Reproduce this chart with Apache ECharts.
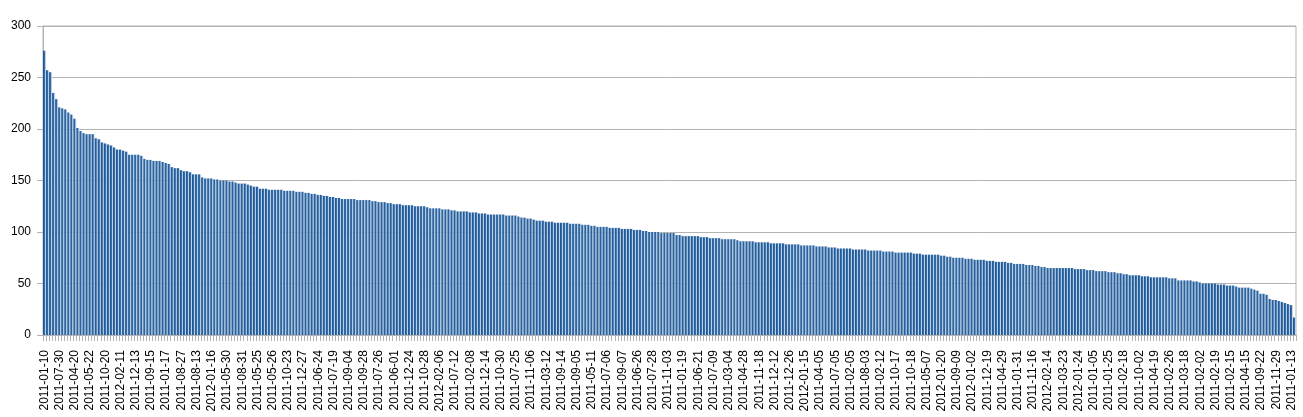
<!DOCTYPE html>
<html>
<head>
<meta charset="utf-8">
<script src="https://cdn.jsdelivr.net/npm/echarts@6/dist/echarts.min.js"></script>
<style>
html,body{margin:0;padding:0;background:#fff;}
#chart{width:1303px;height:417px;}
</style>
</head>
<body>
<div id="chart"></div>
<script>
// Tick labels shown on the x axis (every 5th bar)
var tickLabels = [
"2011-01-10","2011-07-30","2011-04-20","2011-05-22","2011-10-20","2012-02-11","2011-12-13","2011-09-15","2011-01-17","2011-08-27",
"2011-08-13","2012-01-16","2011-05-30","2011-08-31","2011-05-25","2011-05-26","2011-10-23","2011-12-27","2011-06-24","2011-07-19",
"2011-09-04","2011-09-28","2011-07-26","2011-06-01","2011-12-24","2011-10-28","2012-02-06","2011-07-12","2011-02-08","2011-12-14",
"2011-10-30","2011-07-25","2011-11-06","2011-03-12","2011-09-14","2011-09-05","2011-05-11","2011-07-06","2011-09-07","2011-06-26",
"2011-07-28","2011-11-03","2011-01-19","2011-06-21","2011-07-09","2011-03-04","2011-04-28","2011-11-18","2011-12-12","2011-12-26",
"2012-01-15","2011-04-05","2011-07-05","2011-02-05","2011-08-03","2011-02-12","2011-10-17","2011-10-18","2011-05-07","2012-01-20",
"2011-09-09","2012-01-02","2011-12-19","2011-04-29","2011-01-31","2011-11-16","2012-02-14","2011-03-23","2012-01-24","2011-01-05",
"2011-01-25","2011-02-18","2011-10-02","2011-04-19","2011-02-26","2011-03-18","2011-02-02","2011-02-19","2011-02-15","2011-04-15",
"2011-09-22","2011-11-29","2011-01-13"
];
var labelStep = 5;

// Bar values (sorted descending as in the reference)
var values = [
276,257,255,235,229,221,220,219,216,214,
210,201,198,196,195,195,195,191,190,187,
186,185,184,182,180,180,179,178,175,175,
175,175,174,171,170,170,169,169,169,168,
167,166,163,162,162,160,159,159,158,156,
156,156,153,152,152,152,151,151,150,150,
150,149,149,148,147,147,147,146,145,144,
144,142,142,142,141,141,141,141,141,140,
140,140,140,139,139,139,138,138,137,137,
136,136,135,135,134,134,133,133,132,132,
132,132,132,131,131,131,131,131,130,130,
129,129,129,128,128,127,127,127,126,126,
126,126,125,125,125,125,124,123,123,123,
123,122,122,122,121,121,120,120,120,120,
119,119,119,118,118,118,117,117,117,117,
117,117,116,116,116,116,115,114,114,113,
113,112,111,111,111,110,110,110,109,109,
109,109,109,108,108,108,108,107,107,107,
106,106,105,105,105,105,104,104,104,104,
103,103,103,103,102,102,102,101,101,100,
100,100,100,99,99,99,99,99,97,97,
96,96,96,96,96,96,95,95,95,94,
94,94,94,93,93,93,93,93,92,91,
91,91,91,91,90,90,90,90,90,89,
89,89,89,89,88,88,88,88,88,87,
87,87,87,87,86,86,86,86,85,85,
85,84,84,84,84,84,83,83,83,83,
83,82,82,82,82,82,81,81,81,81,
80,80,80,80,80,80,79,79,79,78,
78,78,78,78,78,77,77,76,76,75,
75,75,75,74,74,74,73,73,73,73,
72,72,72,71,71,71,71,70,70,69,
69,69,69,68,68,68,67,67,66,66,
65,65,65,65,65,65,65,65,65,64,
64,64,64,63,63,63,62,62,62,62,
61,61,61,60,60,59,59,58,58,58,
58,57,57,57,56,56,56,56,56,56,
55,55,55,53,53,53,53,53,52,52,
51,50,50,50,50,50,49,49,49,48,
48,48,47,46,46,46,46,45,44,43,
40,40,39,35,34,34,33,32,31,30,
29,17
];

var yTicks = [0, 50, 100, 150, 200, 250, 300];

var categories = values.map(function (v, i) {
  return (i % labelStep === 0 && tickLabels[i / labelStep]) ? tickLabels[i / labelStep] : '';
});

var chart = echarts.init(document.getElementById('chart'), null, {renderer: 'canvas'});
var font = "'Liberation Sans', Arial, sans-serif";
chart.setOption({
  animation: false,
  backgroundColor: '#ffffff',
  grid: {left: 43, right: 7, top: 26, bottom: 82, show: true, borderColor: '#b3b3b3', borderWidth: 1, backgroundColor: 'transparent'},
  xAxis: {
    type: 'category',
    data: categories,
    boundaryGap: true,
    axisLine: {show: true, lineStyle: {color: '#b3b3b3', width: 1}},
    axisTick: {show: true, interval: 0, length: 6, alignWithLabel: false, lineStyle: {color: '#b3b3b3'}},
    axisLabel: {interval: labelStep - 1, rotate: 90, margin: 15, fontFamily: font, fontSize: 12, color: '#000'},
    splitLine: {show: false}
  },
  yAxis: {
    type: 'value',
    min: yTicks[0],
    max: yTicks[yTicks.length - 1],
    interval: yTicks[1] - yTicks[0],
    axisLine: {show: true, lineStyle: {color: '#b3b3b3', width: 1}},
    axisTick: {show: true, length: 6, lineStyle: {color: '#b3b3b3'}},
    axisLabel: {margin: 12, fontFamily: font, fontSize: 12, color: '#000'},
    splitLine: {show: true, lineStyle: {color: '#b3b3b3', width: 1}}
  },
  series: [{
    type: 'bar',
    data: values,
    barCategoryGap: '0%',
    itemStyle: {
      color: new echarts.graphic.LinearGradient(0, 0, 1, 0, [
        {offset: 0, color: '#174f8c'},
        {offset: 0.55, color: '#356fac'},
        {offset: 0.7, color: '#a9c3df'},
        {offset: 1, color: '#d6e3f1'}
      ])
    }
  }]
});
</script>
</body>
</html>
